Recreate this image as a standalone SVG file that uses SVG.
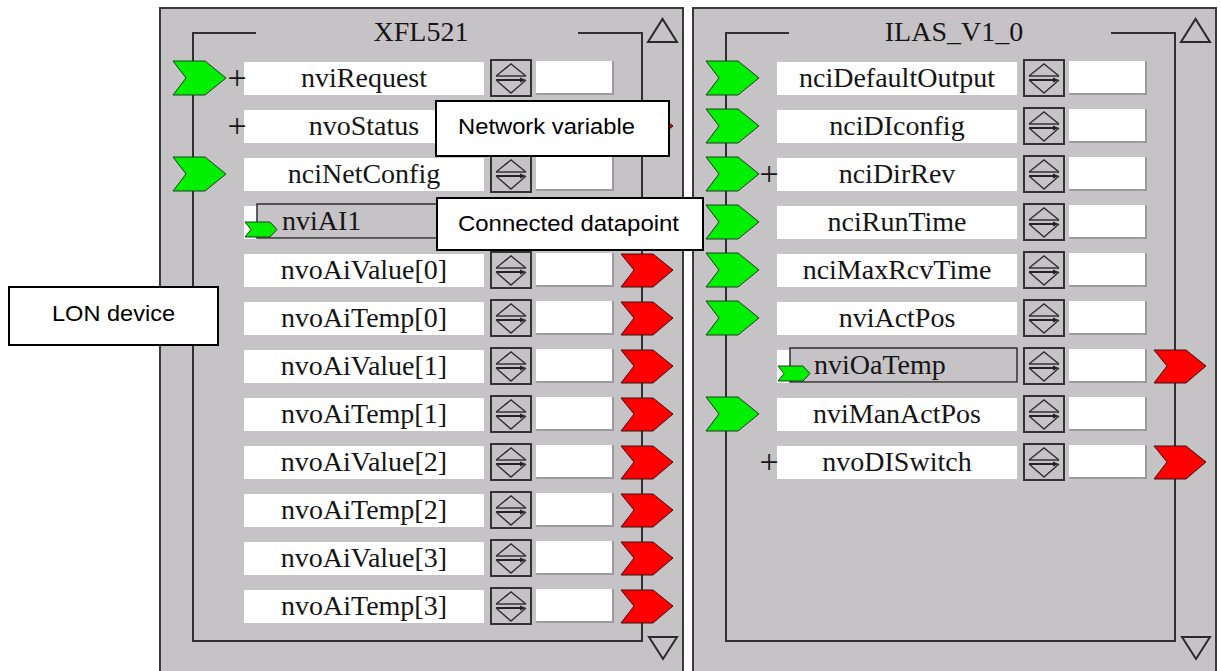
<svg xmlns="http://www.w3.org/2000/svg" xmlns:xlink="http://www.w3.org/1999/xlink" width="1221" height="671" viewBox="0 0 1221 671">
<style>
  .panel{fill:#c6c3c6;stroke:#3a3a3a;stroke-width:2}
  .bus{fill:none;stroke:#303030;stroke-width:2}
  .name{fill:#fff}
  .val{fill:#fff}
  .valedge{fill:none;stroke:#9c9a9c;stroke-width:2}
  .lbl{font-family:"Liberation Serif","Times New Roman",serif;font-size:28px;fill:#151515}
  .mid{text-anchor:middle}
  .plus{font-family:"Liberation Serif","Times New Roman",serif;font-size:34px;fill:#151515;text-anchor:middle}
  .link{fill:#c6c3c6;stroke:#303030;stroke-width:1.5}
  .in{fill:#00f000;stroke:#1e3a1e;stroke-width:1}
  .out{fill:#ff0000;stroke:#3a1010;stroke-width:1}
  .tri{fill:none;stroke:#2a2a2a;stroke-width:2;stroke-linejoin:miter}
  .spinbox{fill:#c6c3c6;stroke:#333;stroke-width:2}
  .spinline{fill:none;stroke:#333;stroke-width:1.5}
  .callout rect{fill:#fff;stroke:#000;stroke-width:2}
  .callout text{font-family:"Liberation Sans",Arial,sans-serif;font-size:22px;fill:#000}
</style>
<defs>
  <!-- up/down spinner button -->
  <g id="spin">
    <rect class="spinbox" x="1" y="1" width="40" height="36"/>
    <polyline class="spinline" points="6,17 21,5 36,17"/>
    <line class="spinline" x1="6" y1="17" x2="36" y2="17"/>
    <line x1="6" y1="21" x2="32" y2="21" stroke="#222" stroke-width="2"/>
    <polygon points="30,18.5 36,21 30,23.5" fill="#222"/>
    <polyline class="spinline" points="6,21 21,34 36,21"/>
  </g>
  <!-- input port chevron (left bus) -->
  <polygon id="inArrow" class="in" points="13,-1 45,-1 66,16 45,33 13,33 26,16"/>
  <!-- output port chevron (right bus) -->
  <polygon id="outArrow" class="out" points="461,0 493,0 513,16 493,33 461,33 474,16"/>
  <!-- small binding marker on connected datapoints -->
  <polygon id="linkArrow" class="in" points="85,16 110,16 117,23.5 110,31 85,31 91,23.5"/>
  <!-- white name field + value field -->
  <g id="fields">
    <rect class="name" x="84" y="0" width="240" height="33"/>
    <use xlink:href="#spin" x="330" y="-3"/>
    <rect class="val" x="376" y="-1" width="77" height="33"/>
    <path class="valedge" d="M453,-1V32H376"/>
  </g>
</defs>

<rect x="0" y="0" width="1221" height="671" fill="#fff"/>

<!-- device panels -->
<g id="panel-XFL521">
  <rect class="panel" x="160" y="8" width="523" height="700"/>
  <text class="lbl mid" x="421" y="41">XFL521</text>
  <polygon class="tri" points="648,42 662.5,19 677,42"/>
  <polygon class="tri" points="649,637 663,659 677,637"/>
</g>
<g id="panel-ILAS_V1_0">
  <rect class="panel" x="693" y="8" width="523" height="700"/>
  <text class="lbl mid" x="954" y="41">ILAS_V1_0</text>
  <polygon class="tri" points="1181,42 1195.5,19 1210,42"/>
  <polygon class="tri" points="1182,637 1196,659 1210,637"/>
</g>

<!-- input / output buses -->
<g id="connectors">
  <path class="bus" d="M256,33H193V641H642V33H578"/>
  <path class="bus" d="M789,33H726V641H1175V33H1111"/>
</g>

<!-- XFL521 datapoints -->
<g id="xfl-nviRequest" transform="translate(160,62)">
  <use xlink:href="#fields"/><use xlink:href="#inArrow"/>
  <text class="plus" x="77" y="27">+</text>
  <text class="lbl mid" x="204" y="25">nviRequest</text>
</g>
<g id="xfl-nvoStatus" transform="translate(160,110)">
  <use xlink:href="#fields"/><use xlink:href="#outArrow"/>
  <text class="plus" x="77" y="27">+</text>
  <text class="lbl mid" x="204" y="25">nvoStatus</text>
</g>
<g id="xfl-nciNetConfig" transform="translate(160,158)">
  <use xlink:href="#fields"/><use xlink:href="#inArrow"/>
  <text class="lbl mid" x="204" y="25">nciNetConfig</text>
</g>
<g id="xfl-nviAI1" transform="translate(160,206)">
  <use xlink:href="#fields"/>
  <rect class="link" x="97" y="-2" width="227" height="34"/>
  <use xlink:href="#linkArrow"/>
  <text class="lbl" x="122" y="24">nviAI1</text>
</g>
<g id="xfl-nvoAiValue0" transform="translate(160,254)">
  <use xlink:href="#fields"/><use xlink:href="#outArrow"/>
  <text class="lbl mid" x="204" y="25">nvoAiValue[0]</text>
</g>
<g id="xfl-nvoAiTemp0" transform="translate(160,302)">
  <use xlink:href="#fields"/><use xlink:href="#outArrow"/>
  <text class="lbl mid" x="204" y="25">nvoAiTemp[0]</text>
</g>
<g id="xfl-nvoAiValue1" transform="translate(160,350)">
  <use xlink:href="#fields"/><use xlink:href="#outArrow"/>
  <text class="lbl mid" x="204" y="25">nvoAiValue[1]</text>
</g>
<g id="xfl-nvoAiTemp1" transform="translate(160,398)">
  <use xlink:href="#fields"/><use xlink:href="#outArrow"/>
  <text class="lbl mid" x="204" y="25">nvoAiTemp[1]</text>
</g>
<g id="xfl-nvoAiValue2" transform="translate(160,446)">
  <use xlink:href="#fields"/><use xlink:href="#outArrow"/>
  <text class="lbl mid" x="204" y="25">nvoAiValue[2]</text>
</g>
<g id="xfl-nvoAiTemp2" transform="translate(160,494)">
  <use xlink:href="#fields"/><use xlink:href="#outArrow"/>
  <text class="lbl mid" x="204" y="25">nvoAiTemp[2]</text>
</g>
<g id="xfl-nvoAiValue3" transform="translate(160,542)">
  <use xlink:href="#fields"/><use xlink:href="#outArrow"/>
  <text class="lbl mid" x="204" y="25">nvoAiValue[3]</text>
</g>
<g id="xfl-nvoAiTemp3" transform="translate(160,590)">
  <use xlink:href="#fields"/><use xlink:href="#outArrow"/>
  <text class="lbl mid" x="204" y="25">nvoAiTemp[3]</text>
</g>

<!-- ILAS_V1_0 datapoints -->
<g id="ilas-nciDefaultOutput" transform="translate(693,62)">
  <use xlink:href="#fields"/><use xlink:href="#inArrow"/>
  <text class="lbl mid" x="204" y="25">nciDefaultOutput</text>
</g>
<g id="ilas-nciDIconfig" transform="translate(693,110)">
  <use xlink:href="#fields"/><use xlink:href="#inArrow"/>
  <text class="lbl mid" x="204" y="25">nciDIconfig</text>
</g>
<g id="ilas-nciDirRev" transform="translate(693,158)">
  <use xlink:href="#fields"/><use xlink:href="#inArrow"/>
  <text class="plus" x="76" y="27">+</text>
  <text class="lbl mid" x="204" y="25">nciDirRev</text>
</g>
<g id="ilas-nciRunTime" transform="translate(693,206)">
  <use xlink:href="#fields"/><use xlink:href="#inArrow"/>
  <text class="lbl mid" x="204" y="25">nciRunTime</text>
</g>
<g id="ilas-nciMaxRcvTime" transform="translate(693,254)">
  <use xlink:href="#fields"/><use xlink:href="#inArrow"/>
  <text class="lbl mid" x="204" y="25">nciMaxRcvTime</text>
</g>
<g id="ilas-nviActPos" transform="translate(693,302)">
  <use xlink:href="#fields"/><use xlink:href="#inArrow"/>
  <text class="lbl mid" x="204" y="25">nviActPos</text>
</g>
<g id="ilas-nviOaTemp" transform="translate(693,350)">
  <use xlink:href="#fields"/>
  <rect class="link" x="97" y="-2" width="227" height="34"/>
  <use xlink:href="#linkArrow"/>
  <use xlink:href="#outArrow"/>
  <text class="lbl" x="121" y="24">nviOaTemp</text>
</g>
<g id="ilas-nviManActPos" transform="translate(693,398)">
  <use xlink:href="#fields"/><use xlink:href="#inArrow"/>
  <text class="lbl mid" x="204" y="25">nviManActPos</text>
</g>
<g id="ilas-nvoDISwitch" transform="translate(693,446)">
  <use xlink:href="#fields"/><use xlink:href="#outArrow"/>
  <text class="plus" x="76" y="27">+</text>
  <text class="lbl mid" x="204" y="25">nvoDISwitch</text>
</g>

<!-- callout labels -->
<g id="callout-network-variable" class="callout">
  <rect x="436" y="101" width="233" height="55"/>
  <text x="458" y="134" textLength="177" lengthAdjust="spacingAndGlyphs">Network variable</text>
</g>
<g id="callout-connected-datapoint" class="callout">
  <rect x="437" y="198" width="266" height="52"/>
  <text x="458" y="231" textLength="221" lengthAdjust="spacingAndGlyphs">Connected datapoint</text>
</g>
<g id="callout-lon-device" class="callout">
  <rect x="9" y="287" width="209" height="58"/>
  <text x="52" y="321" textLength="123" lengthAdjust="spacingAndGlyphs">LON device</text>
</g>
</svg>
